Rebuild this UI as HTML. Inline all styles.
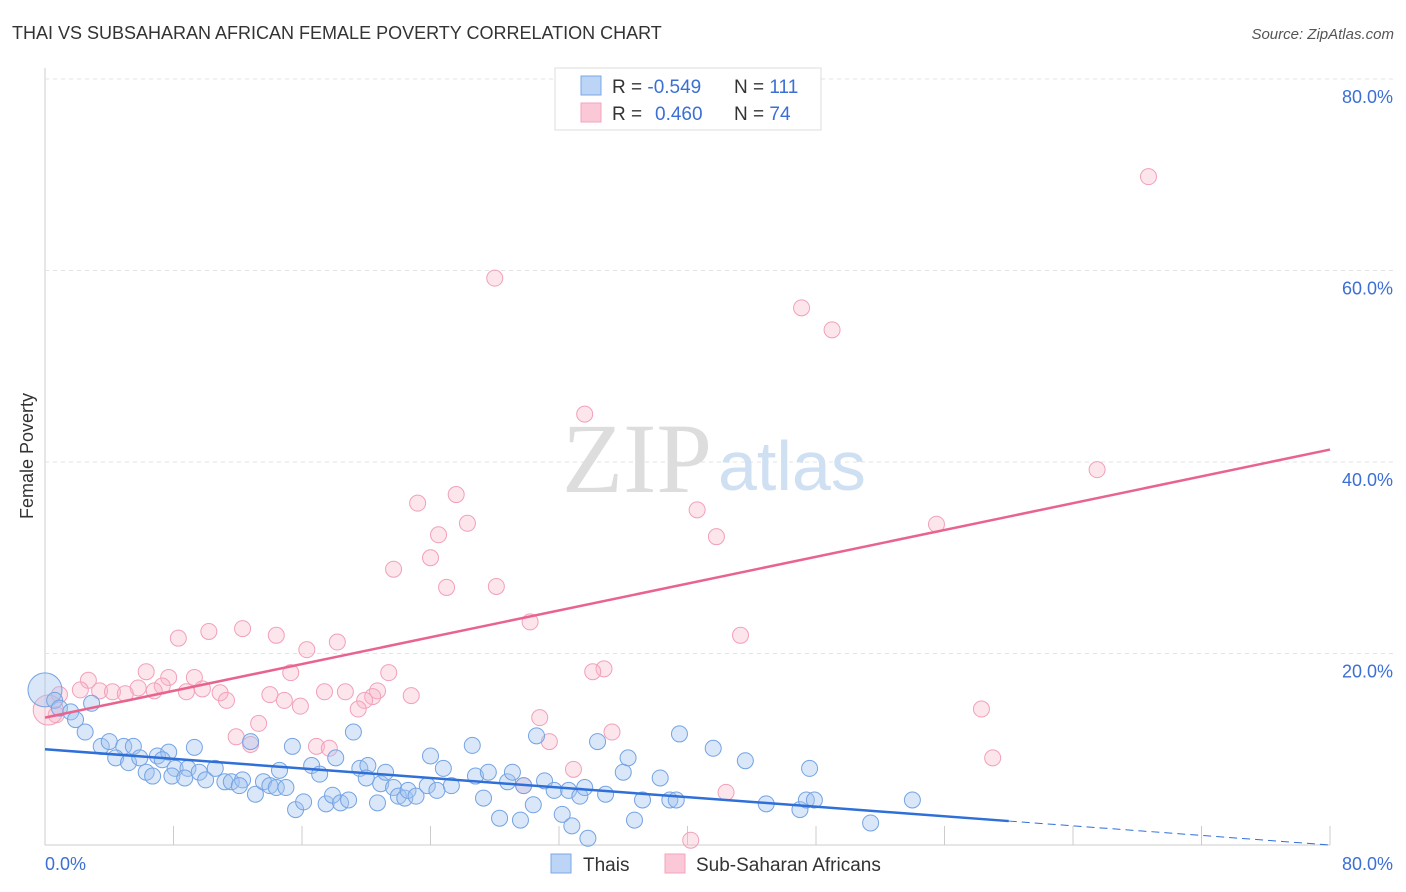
<!DOCTYPE html>
<html><head><meta charset="utf-8"><style>
body{margin:0;background:#fff;font-family:"Liberation Sans",sans-serif;}
#wrap{position:relative;width:1406px;height:892px;overflow:hidden}
</style></head><body>
<div id="wrap">
<svg id="svg" width="1406" height="892" xmlns="http://www.w3.org/2000/svg">
<text x="12" y="39" font-size="18" fill="#333">THAI VS SUBSAHARAN AFRICAN FEMALE POVERTY CORRELATION CHART</text>
<text x="1394" y="39" font-size="15" fill="#555" font-style="italic" text-anchor="end">Source: ZipAtlas.com</text>
<text x="33" y="456" font-size="18" fill="#333" transform="rotate(-90 33 456)" text-anchor="middle">Female Poverty</text>
<g id="grid"></g>
<text x="712" y="492" font-size="100" fill="#ddd" font-family="Liberation Serif" text-anchor="end">ZIP</text>
<text x="718" y="490" font-size="70" fill="#cfe0f3">atlas</text>
<g id="pts"></g>
<g id="lines"></g>
<g>
<rect x="555" y="68" width="266" height="62" fill="#fff" stroke="#ddd"/>
<rect x="581" y="76" width="20" height="19" fill="#bcd4f5" stroke="#7aa8e6"/>
<rect x="581" y="103" width="20" height="19" fill="#fac8d7" stroke="#f4a6bf"/>
<text x="612" y="93" font-size="19" fill="#333">R = <tspan fill="#3b6fd4">-0.549</tspan>   <tspan x="734">N = </tspan><tspan fill="#3b6fd4">111</tspan></text>
<text x="612" y="120" font-size="19" fill="#333">R = <tspan fill="#3b6fd4" x="655">0.460</tspan><tspan x="734">N = </tspan><tspan fill="#3b6fd4">74</tspan></text>
</g>
<g>
<rect x="551" y="854" width="20" height="19" fill="#bcd4f5" stroke="#7aa8e6"/>
<text x="583" y="871" font-size="19" fill="#333">Thais</text>
<rect x="665" y="854" width="20" height="19" fill="#fac8d7" stroke="#f4a6bf"/>
<text x="696" y="871" font-size="19" fill="#333">Sub-Saharan Africans</text>
</g>
<text x="45" y="870" font-size="18" fill="#3b6fd4">0.0%</text>
<text x="1393" y="870" font-size="18" fill="#3b6fd4" text-anchor="end">80.0%</text>
</svg>
</div>
<script>
const yTicks=[20,40,60,80];
const yTickLabels=["20.0%","40.0%","60.0%","80.0%"];
const xTicks=[0,8,16,24,32,40,48,56,64,72,80];
const thaiX=[0,0.6,0.9,1.6,1.9,2.9,2.5,3.5,4.0,4.9,5.5,4.4,5.2,5.9,7.0,7.7,7.3,9.3,6.3,6.7,8.1,8.9,7.9,8.7,9.6,10.0,10.6,11.2,11.6,12.3,12.1,12.8,13.1,13.6,14.0,14.6,14.4,15.0,15.4,15.6,16.1,16.6,17.1,17.5,17.9,18.1,18.4,18.9,19.2,19.6,20.1,20.0,20.7,20.9,21.2,21.7,22.0,22.4,22.6,23.1,23.8,24.0,24.4,24.8,25.3,26.6,26.8,27.3,27.6,28.3,28.8,29.1,29.6,29.8,30.6,31.1,30.4,31.7,32.2,32.6,32.8,33.3,33.6,33.8,34.4,34.9,36.0,36.3,36.7,37.2,38.3,38.9,39.3,39.5,41.6,43.6,44.9,47.0,47.4,47.9,47.6,51.4,54.0];
const thaiY=[16.2,15.1,14.3,13.9,13.1,14.8,11.8,10.3,10.8,10.3,10.3,9.1,8.6,9.1,9.3,9.7,8.9,10.2,7.6,7.2,8.0,8.0,7.2,7.0,7.6,6.8,8.0,6.6,6.6,6.8,6.2,10.8,5.3,6.6,6.2,7.8,6.0,6.0,10.3,3.7,4.5,8.3,7.4,4.3,5.2,9.1,4.4,4.7,11.8,8.0,8.3,7.0,4.4,6.4,7.6,6.0,5.1,4.9,5.7,5.1,6.2,9.3,5.7,8.0,6.2,10.4,7.2,4.9,7.6,2.8,6.6,7.6,2.6,6.2,11.4,6.7,4.2,5.7,3.2,5.7,2.0,5.1,6.0,0.7,10.8,5.3,7.6,9.1,2.6,4.7,7.0,4.7,4.7,11.6,10.1,8.8,4.3,3.7,4.7,4.7,8.0,2.3,4.7];
const ssaX=[68.7,28.0,47.1,49.0,33.6,65.5,25.6,23.2,26.3,40.6,41.8,55.5,24.5,24.0,21.7,25.0,28.1,30.2,43.3,8.3,10.2,12.3,14.4,16.3,18.2,34.8,34.1,6.3,15.3,21.4,2.7,7.7,9.3,7.3,5.8,2.2,3.4,4.2,5.0,6.8,8.8,9.8,10.9,11.3,14.0,14.9,15.9,17.4,18.7,20.7,20.4,19.9,19.5,22.8,0.9,0.7,13.3,11.9,12.8,16.9,17.7,30.8,31.4,35.3,32.9,29.8,42.4,40.2,58.3,59.0,0.2];
const ssaY=[69.8,59.2,56.1,53.8,45.0,39.2,36.6,35.7,33.6,35.0,32.2,33.5,32.4,30.0,28.8,26.9,27.0,23.3,21.9,21.6,22.3,22.6,21.9,20.4,21.2,18.4,18.1,18.1,18.0,18.0,17.2,17.5,17.5,16.6,16.4,16.2,16.1,16.0,15.8,16.1,16.0,16.3,15.9,15.1,15.7,15.1,14.5,16.0,16.0,16.1,15.5,15.1,14.2,15.6,15.7,13.6,12.7,11.3,10.5,10.3,10.1,13.3,10.8,11.8,7.9,6.2,5.5,0.5,14.2,9.1,14.1];
const thaiTrend=[10.0,0.0];   // y at x=0 and x=80
const ssaTrend=[13.3,41.3];
const thaiSolidEnd=60;

const NS="http://www.w3.org/2000/svg";
const X=v=>45+v/80*1285;
const Y=v=>845-v/20*191.5;
function mk(tag,attrs,parent){const e=document.createElementNS(NS,tag);for(const k in attrs)e.setAttribute(k,attrs[k]);parent.appendChild(e);return e;}
const grid=document.getElementById('grid');
const ax=mk('line',{x1:45,y1:68,x2:45,y2:845,stroke:'#ccc'},grid);


const bx=mk('line',{x1:45,y1:845,x2:1330,y2:845,stroke:'#ccc'},grid);


yTicks.forEach((t,i)=>{
  const g=mk('line',{x1:45,y1:Y(t),x2:1393,y2:Y(t),stroke:'#e3e3e3','stroke-dasharray':'4,4'},grid);
  
  
  const tx=mk('text',{x:1393,y:Y(t)+24,'font-size':18,fill:'#3b6fd4','text-anchor':'end'},grid);
  tx.textContent=yTickLabels[i];
  
  
});
xTicks.forEach(t=>{
  const l=mk('line',{x1:X(t),y1:826,x2:X(t),y2:845,stroke:'#ccc'},grid);
  
  
});
const pts=document.getElementById('pts');
ssaX.forEach((x,i)=>{
  const r=i===ssaX.length-1?15:8;
  const c=mk('circle',{cx:X(x),cy:Y(ssaY[i]),r:r,fill:'rgba(248,180,200,0.35)',stroke:'#f2a0ba','stroke-width':1},pts);
  
  
});
thaiX.forEach((x,i)=>{
  const r=i===0?17:8;
  const c=mk('circle',{cx:X(x),cy:Y(thaiY[i]),r:r,fill:'rgba(160,195,240,0.4)',stroke:'#74a3e4','stroke-width':1},pts);
  
  
});
const lines=document.getElementById('lines');
const ty=x=>thaiTrend[0]+(thaiTrend[1]-thaiTrend[0])*x/80;
const l1=mk('line',{x1:X(0),y1:Y(ty(0)),x2:X(thaiSolidEnd),y2:Y(ty(thaiSolidEnd)),stroke:'#2f6fd8','stroke-width':2.5},lines);


const l2=mk('line',{x1:X(thaiSolidEnd),y1:Y(ty(thaiSolidEnd)),x2:X(80),y2:Y(ty(80)),stroke:'#2f6fd8','stroke-width':1,'stroke-dasharray':'8,5'},lines);


const l3=mk('line',{x1:X(0),y1:Y(ssaTrend[0]),x2:X(80),y2:Y(ssaTrend[1]),stroke:'#e8648f','stroke-width':2.5},lines);


</script>
</body></html>
